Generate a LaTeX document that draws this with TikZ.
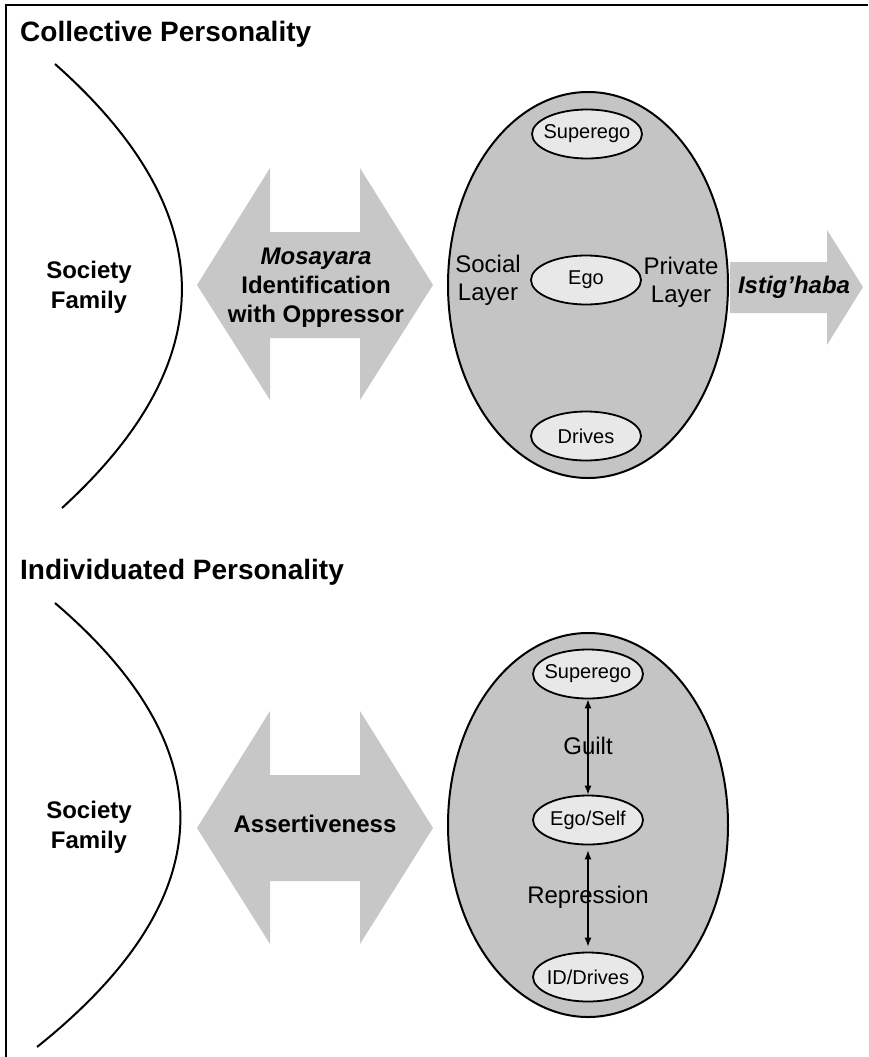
\documentclass[tikz,border=0pt]{standalone}
\usepackage{fontspec}
\setmainfont{Liberation Sans}
\usetikzlibrary{shapes.geometric,arrows.meta}

\definecolor{arrowgray}{gray}{0.78}
\definecolor{bodygray}{gray}{0.77}
\definecolor{innergray}{gray}{0.91}

\begin{document}
\begin{tikzpicture}[x=1pt,y=-1pt,
    heading/.style = {anchor=base west, inner sep=0pt, font=\fontsize{28}{34}\selectfont\bfseries},
    side/.style = {align=center, inner sep=0pt, font=\fontsize{24}{30}\selectfont\bfseries},
    band/.style = {fill=arrowgray},
    say/.style = {align=center, inner sep=0pt, font=\fontsize{24}{29}\selectfont\bfseries},
    psyche/.style = {draw, ellipse, fill=bodygray, line width=2pt, minimum width=280pt, minimum height=386pt, inner sep=0pt},
    part/.style = {draw, ellipse, fill=innergray, line width=1.8pt, minimum width=110pt, minimum height=49pt, inner sep=0pt},
    layertext/.style = {align=center, inner sep=0pt, font=\fontsize{24}{28}\selectfont},
    rim/.style = {line width=2pt},
    pull/.style = {{Latex[length=9pt,width=7pt]}-{Latex[length=9pt,width=7pt]}, line width=1.2pt},
    every label/.style = {inner sep=0pt, font=\fontsize{20}{24}\selectfont}]
    \useasboundingbox (0,0) rectangle (868,1057);
    % frame
    \draw[line width=2.4pt] (6,1057) -- (6,5) -- (868,5);

    % collective personality
    \node[heading] (t1) at (20,42) {Collective Personality};
    \draw[rim] (55,64) .. controls (222,212) and (224,360) .. (62,508);
    \node[side] (soc1) at (89,287) {Society\\Family};
    \fill[band] (197,285) -- (270,168) -- (270,232) -- (360,232) -- (360,168) -- (433,285) -- (360,400) -- (360,338) -- (270,338) -- (270,400) -- cycle;
    \node[say] (mos) at (316,288) {\textit{Mosayara}\\Identification\\with Oppressor};
    \node[psyche] (ell1) at (588,285) {};
    \node[part, label=center:Superego] (sup1) at (587,134) {};
    \node[part, label=center:Ego] (ego1) at (586,280) {};
    \node[part, label=center:Drives] (drv1) at (586,436) {};
    \node[layertext] (soc) at (488,280) {Social\\Layer};
    \node[layertext] (priv) at (681,282) {Private\\Layer};
    \fill[band] (730,262) -- (827,262) -- (827,230) -- (863,287) -- (827,345) -- (827,313) -- (730,313) -- cycle;
    \node[say] (ist) at (794,287) {\textit{Istig’haba}};

    % individuated personality
    \node[heading] (t2) at (20,579) {Individuated Personality};
    \draw[rim] (55,603) .. controls (228,751) and (222,899) .. (37,1047);
    \node[side] (soc2) at (89,827) {Society\\Family};
    \fill[band] (197,828) -- (270,711) -- (270,775) -- (360,775) -- (360,711) -- (433,828) -- (360,944) -- (360,881) -- (270,881) -- (270,944) -- cycle;
    \node[say] (ass) at (315,824) {Assertiveness};
    \node[psyche, minimum height=384pt] (ell2) at (588,825) {};
    \node[part, label=center:Superego] (sup2) at (588,674) {};
    \node[part, label=center:Ego/Self] (ego2) at (588,820) {};
    \node[part, label=center:ID/Drives] (id2) at (588,977) {};
    \draw[pull] (sup2) -- (ego2);
    \draw[pull, shorten <=5pt, shorten >=5pt] (ego2) -- (id2);
    \node[layertext] (guilt) at (588,746) {Guilt};
    \node[layertext] (rep) at (588,897) {Repression};
\end{tikzpicture}
\end{document}
